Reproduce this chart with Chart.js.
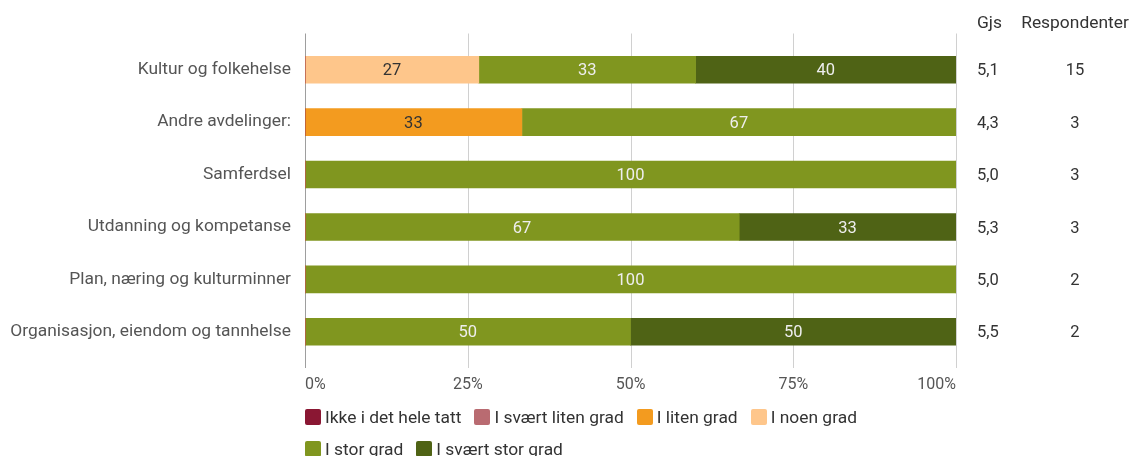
<!DOCTYPE html>
<html>
<head>
<meta charset="utf-8">
<script src="https://cdn.jsdelivr.net/npm/chart.js@4"></script>
<style>
    html, body { margin: 0; padding: 0; background: #fff; }
    #wrap { position: relative; width: 1130px; height: 456px; overflow: hidden; font-family: Roboto, sans-serif; }
    #legend { position: absolute; left: 305px; top: 401px; width: 640px; display: flex; flex-wrap: wrap; }
    .item { display: flex; align-items: center; height: 32px; margin-right: 13px; font-size: 17.4px; color: #333; }
    .box { width: 16px; height: 16px; border-radius: 2px; margin-right: 4px; }
</style>
</head>
<body>
<div id="wrap">
    <canvas id="chart" width="1130" height="456"></canvas>
    <div id="legend"></div>
</div>
<script>
const categories = [
    "Kultur og folkehelse",
    "Andre avdelinger:",
    "Samferdsel",
    "Utdanning og kompetanse",
    "Plan, næring og kulturminner",
    "Organisasjon, eiendom og tannhelse",
];
const seriesNames = [
    "Ikke i det hele tatt",
    "I svært liten grad",
    "I liten grad",
    "I noen grad",
    "I stor grad",
    "I svært stor grad",
];
const ikkeIDetHeleTatt = [0, 0, 0, 0, 0, 0];
const iSvaertLitenGrad = [0, 0, 0, 0, 0, 0];
const iLitenGrad = [0, 33.3, 0, 0, 0, 0];
const iNoenGrad = [26.7, 0, 0, 0, 0, 0];
const iStorGrad = [33.3, 66.7, 100, 66.7, 100, 50];
const iSvaertStorGrad = [40, 0, 0, 33.3, 0, 50];
const gjs = ["5,1", "4,3", "5,0", "5,3", "5,0", "5,5"];
const respondenter = ["15", "3", "3", "3", "2", "2"];
const xTicks = [0, 25, 50, 75, 100];

const colors = ["#8a1733", "#b96b71", "#f39b1f", "#fec68b", "#80961f", "#4f6315"];
const labelColors = ["#fff", "#fff", "#333", "#333", "#eee", "#eee"];
const seriesValues = [ikkeIDetHeleTatt, iSvaertLitenGrad, iLitenGrad, iNoenGrad, iStorGrad, iSvaertStorGrad];

const legend = document.getElementById("legend");
seriesNames.forEach((name, i) => {
    const item = document.createElement("div");
    item.className = "item";
    item.innerHTML = '<span class="box" style="background:' + colors[i] + '"></span>' + name;
    legend.appendChild(item);
});

const extras = {
    id: "extras",
    beforeDatasetsDraw(chart) {
        const ctx = chart.ctx;
        const x = chart.scales.x;
        const top = chart.chartArea.top - 10;
        const bottom = chart.chartArea.bottom + 10;
        ctx.save();
        xTicks.forEach((t) => {
            const px = Math.round(x.getPixelForValue(t)) + 0.5;
            ctx.strokeStyle = t === 0 ? "#9e9e9e" : "#d0d0d0";
            ctx.lineWidth = 1;
            ctx.beginPath();
            ctx.moveTo(px, top);
            ctx.lineTo(px, bottom);
            ctx.stroke();
        });
        ctx.restore();
    },
    afterDatasetsDraw(chart) {
        const ctx = chart.ctx;
        const y = chart.scales.y;
        ctx.save();
        ctx.font = "16.5px Roboto";
        ctx.textBaseline = "middle";
        ctx.textAlign = "center";
        chart.data.datasets.forEach((ds, di) => {
            chart.getDatasetMeta(di).data.forEach((bar, i) => {
                const v = ds.data[i];
                if (!v) return;
                ctx.fillStyle = labelColors[di];
                ctx.fillText(String(Math.round(v)), (bar.x + bar.base) / 2, bar.y + 1.5);
            });
        });
        ctx.fillStyle = "#333";
        ctx.font = "17.4px Roboto";
        ctx.textAlign = "left";
        ctx.fillText("Gjs", 977, 24);
        ctx.textAlign = "center";
        ctx.fillText("Respondenter", 1075, 24);
        ctx.font = "16.5px Roboto";
        categories.forEach((c, i) => {
            const py = y.getPixelForValue(i) + 1.5;
            ctx.textAlign = "left";
            ctx.fillText(gjs[i], 977, py);
            ctx.textAlign = "center";
            ctx.fillText(respondenter[i], 1075, py);
        });
        ctx.restore();
    },
};

new Chart(document.getElementById("chart"), {
    type: "bar",
    data: {
        labels: categories,
        datasets: seriesNames.map((name, i) => ({
            label: name,
            data: seriesValues[i],
            backgroundColor: colors[i],
            borderWidth: 0,
            barThickness: 27,
        })),
    },
    options: {
        indexAxis: "y",
        responsive: false,
        animation: false,
        events: [],
        layout: { padding: { top: 43.5, right: 174, bottom: 58, left: 0 } },
        plugins: { legend: { display: false }, tooltip: { enabled: false } },
        scales: {
            x: {
                stacked: true,
                min: 0,
                max: 100,
                afterFit: (axis) => { axis.height = 40; },
                afterBuildTicks: (axis) => { axis.ticks = xTicks.map((v) => ({ value: v })); },
                grid: { display: false, drawTicks: false },
                border: { display: false },
                ticks: {
                    align: "inner",
                    padding: 17,
                    color: "#555",
                    font: { family: "Roboto", size: 16 },
                    callback: (v) => v + "%",
                },
            },
            y: {
                stacked: true,
                afterFit: (axis) => { axis.width = 305; },
                grid: { display: false, drawTicks: false },
                border: { display: false },
                ticks: {
                    padding: 14,
                    color: "#555",
                    font: { family: "Roboto", size: 17.4 },
                },
            },
        },
    },
    plugins: [extras],
});
</script>
</body>
</html>
